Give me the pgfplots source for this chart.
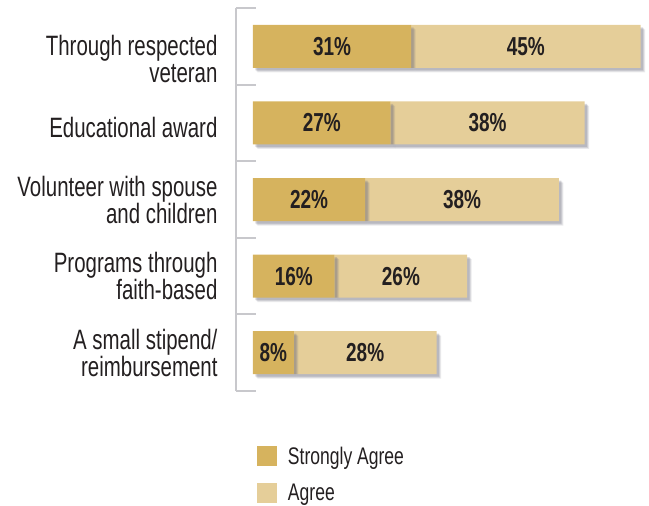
\documentclass[border=0pt]{standalone}
\usepackage{fontspec}
\setmainfont{Liberation Sans}[FakeStretch=0.73]
\usepackage{pgfplots}
\pgfplotsset{compat=1.18}
\usepackage{pgfplotstable}
\usetikzlibrary{shadows}
\definecolor{sa}{RGB}{214,179,94}
\definecolor{ag}{RGB}{229,206,153}
\definecolor{txt}{RGB}{35,31,32}
\definecolor{axgray}{RGB}{200,200,204}
\definecolor{shd}{RGB}{110,110,125}

\pgfplotstableread{
pos sa ag
0 31 45
1 27 38
2 22 38
3 16 26
4 8 28
}\data

\begin{document}
\begin{tikzpicture}
\path[use as bounding box] (0,0) rectangle (649pt,-506pt);
\begin{axis}[
  at={(236pt,-391pt)}, anchor=south west,
  scale only axis, width=409.7pt, height=383pt,
  xbar stacked, bar width=43pt,
  xmin=-3.33, xmax=77,
  ymin=-0.5, ymax=4.5, y dir=reverse,
  axis x line=none, axis y line*=left,
  axis line style={axgray, line width=2pt, -},
  ytick={-0.5,0.5,1.5,2.5,3.5,4.5}, yticklabels={,,,,,},
  tick align=inside, major tick length=20pt,
  tick style={axgray, line width=2pt},
  extra y ticks={0.16,1.06,2,3,4},
  extra y tick labels={{Through respected\\veteran},{Educational award},{Volunteer with spouse\\and children},{Programs through\\faith-based},{A small stipend/\\reimbursement}},
  extra y tick style={major tick length=0pt},
  yticklabel style={align=right, font=\fontsize{28}{27}\selectfont, text=txt, xshift=-15pt},
  clip=false,
  /pgf/number format/assume math mode=true,
  nodes near coords={\pgfmathprintnumber{\pgfplotspointmeta}\%},
  every node near coord/.append style={anchor=center, font=\bfseries\fontsize{26}{26}\selectfont, text=txt},
  legend style={at={(0,0)}, anchor=north west, xshift=21pt, yshift=-54pt, inner sep=0pt, outer sep=0pt, draw=none, fill=none, row sep=14pt, font=\fontsize{24}{24}\selectfont, text=txt, /tikz/every odd column/.append style={column sep=9pt}},
  legend cell align=left,
  shd/.style={drop shadow={shadow xshift=4.5pt, shadow yshift=-4.5pt, fill=shd, opacity=0.15},
              drop shadow={shadow xshift=3.5pt, shadow yshift=-3.5pt, fill=shd, opacity=0.2},
              drop shadow={shadow xshift=2.5pt, shadow yshift=-2.5pt, fill=shd, opacity=0.25}},
]
\addplot[fill=sa, draw=none, shd, point meta=\thisrow{sa},
  legend image code/.code={\pgfsetfillcolor{sa}\pgfpathrectangle{\pgfpoint{0pt}{-10pt}}{\pgfpoint{20pt}{20pt}}\pgfusepath{fill}}]
  table[x=sa, y=pos] \data;
\addlegendentry{Strongly Agree}
\addplot[fill=ag, draw=none, shd, point meta=\thisrow{ag},
  legend image code/.code={\pgfsetfillcolor{ag}\pgfpathrectangle{\pgfpoint{0pt}{-10pt}}{\pgfpoint{20pt}{20pt}}\pgfusepath{fill}}]
  table[x=ag, y=pos] \data;
\addlegendentry{Agree}
\end{axis}
\end{tikzpicture}
\end{document}
